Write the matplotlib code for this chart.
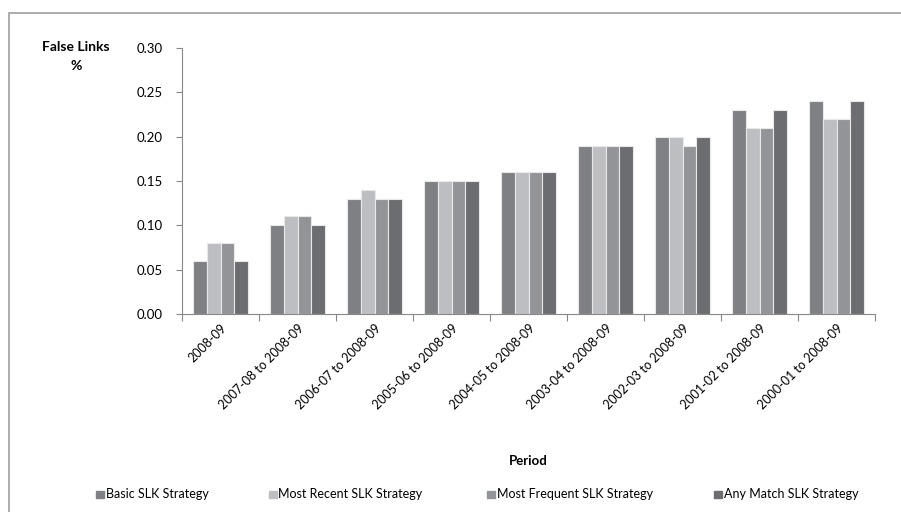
import numpy as np
import matplotlib.pyplot as plt
from matplotlib.patches import Rectangle

periods = ["2008-09", "2007-08 to 2008-09", "2006-07 to 2008-09", "2005-06 to 2008-09",
           "2004-05 to 2008-09", "2003-04 to 2008-09", "2002-03 to 2008-09",
           "2001-02 to 2008-09", "2000-01 to 2008-09"]
basic = [0.06, 0.10, 0.13, 0.15, 0.16, 0.19, 0.20, 0.23, 0.24]
most_recent = [0.08, 0.11, 0.14, 0.15, 0.16, 0.19, 0.20, 0.21, 0.22]
most_frequent = [0.08, 0.11, 0.13, 0.15, 0.16, 0.19, 0.19, 0.21, 0.22]
any_match = [0.06, 0.10, 0.13, 0.15, 0.16, 0.19, 0.20, 0.23, 0.24]
names = ["Basic SLK Strategy", "Most Recent SLK Strategy",
         "Most Frequent SLK Strategy", "Any Match SLK Strategy"]
colors = ["#7f8084", "#bdbec2", "#939498", "#6c6d71"]

plt.rcParams['font.family'] = ['Lato', 'DejaVu Sans']

fig = plt.figure(figsize=(9.01, 5.12), dpi=100)
ax = fig.add_axes([182 / 901, 1 - 314 / 512, (875 - 182) / 901, (314 - 48) / 512])

# outer chart border
fig.patches.append(Rectangle((9 / 901, -0.05), 1.2, 1 - 13 / 512 + 0.05,
                             transform=fig.transFigure, fill=False,
                             edgecolor="#a0a0a0", linewidth=1.2))

x = np.arange(len(periods))
w = 0.18
series = [basic, most_recent, most_frequent, any_match]
for i, s in enumerate(series):
    ax.bar(x + (i - 1.5) * w, s, w, color=colors[i], edgecolor="#e8e8e8",
           linewidth=0.8, label=names[i])

ax.set_xlim(-0.5, len(periods) - 0.5)
ax.set_ylim(0, 0.30)
ax.set_yticks(np.arange(0, 0.31, 0.05))
ax.set_yticklabels(["%.2f" % v for v in np.arange(0, 0.31, 0.05)], fontsize=9.5)
ax.set_xticks(np.arange(-0.5, len(periods), 1.0), minor=False)
ax.set_xticklabels([])
ax.set_xticks(x, minor=True)
ax.set_xticklabels(periods, minor=True, rotation=45, ha="right",
                   rotation_mode="anchor", fontsize=9)
ax.tick_params(axis="x", which="minor", length=0, pad=6)
ax.tick_params(axis="x", which="major", length=5, color="#888888", direction="out")
ax.tick_params(axis="y", length=4, color="#888888", direction="out", pad=10)

for sp in ["top", "right"]:
    ax.spines[sp].set_visible(False)
for sp in ["left", "bottom"]:
    ax.spines[sp].set_color("#888888")

fig.text(76 / 901, 1 - 47 / 512, "False Links", ha="center", va="center",
         fontsize=10, fontweight="bold")
fig.text(76 / 901, 1 - 66 / 512, "%", ha="center", va="center",
         fontsize=10, fontweight="bold")
fig.text(528 / 901, 1 - 461 / 512, "Period", ha="center", va="center",
         fontsize=9.5, fontweight="bold")

leg_x = [96, 269, 487, 714]
for i in range(4):
    fig.patches.append(Rectangle((leg_x[i] / 901, 1 - 498 / 512), 8 / 901, 7 / 512,
                                 transform=fig.transFigure, color=colors[i]))
    fig.text((leg_x[i] + 9.5) / 901, 1 - 493.5 / 512, names[i], ha="left",
             va="center", fontsize=9)

fig.savefig("out.png", dpi=100)
